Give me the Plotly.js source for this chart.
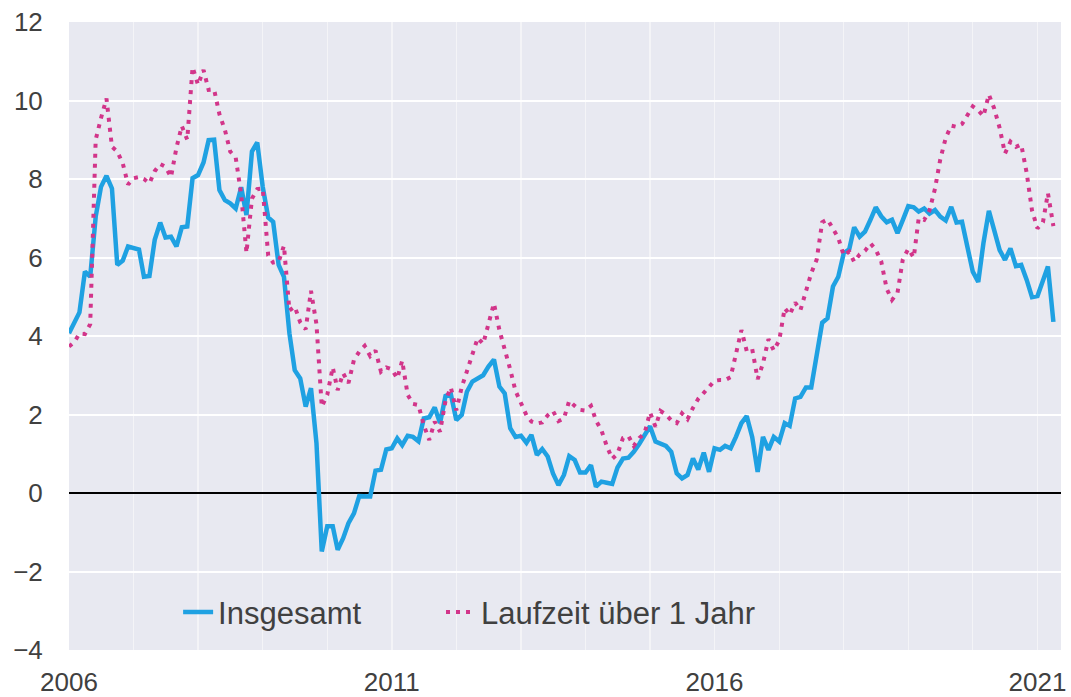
<!DOCTYPE html>
<html><head><meta charset="utf-8">
<script src="https://cdn.plot.ly/plotly-3.0.1.min.js"></script>
<style>html,body{margin:0;padding:0;background:#fff}#chart{width:1071px;height:697px}</style>
</head><body><div id="chart"></div>
<script>
// Monthly series starting January 2006
const startYear = 2006;
const startMonth = 1;
const seriesNames = ['Insgesamt', 'Laufzeit über 1 Jahr'];
const insgesamt = [
4.07,4.35,4.6,5.64,5.51,7.04,7.8,8.08,7.76,5.81,5.92,6.28,
6.25,6.2,5.51,5.53,6.45,6.89,6.51,6.53,6.28,6.77,6.79,8.02,
8.1,8.42,8.99,9.0,7.72,7.46,7.38,7.25,7.79,7.08,8.7,8.93,
7.8,7.02,6.91,5.81,5.51,4.07,3.13,2.92,2.2,2.67,1.27,-1.49,
-0.85,-0.85,-1.45,-1.15,-0.77,-0.52,-0.08,-0.09,-0.09,0.57,0.59,1.11,
1.14,1.39,1.22,1.46,1.43,1.32,1.9,1.93,2.18,1.78,2.47,2.52,
1.86,1.99,2.58,2.84,2.92,3.0,3.22,3.4,2.71,2.54,1.65,1.43,
1.46,1.28,1.48,0.97,1.12,0.93,0.5,0.2,0.46,0.94,0.84,0.52,
0.52,0.71,0.16,0.29,0.26,0.23,0.65,0.88,0.9,1.05,1.25,1.45,
1.7,1.31,1.25,1.2,1.05,0.5,0.37,0.46,0.88,0.6,1.03,0.54,
1.14,1.1,1.2,1.14,1.43,1.78,1.96,1.43,0.54,1.43,1.1,1.43,
1.31,1.78,1.71,2.41,2.45,2.69,2.69,3.52,4.34,4.45,5.26,5.51,
6.11,6.21,6.77,6.53,6.66,6.96,7.28,7.05,6.9,6.96,6.62,6.95,
7.31,7.28,7.17,7.25,7.12,7.21,7.04,6.94,7.29,6.89,6.91,6.28,
5.64,5.38,6.36,7.19,6.66,6.19,5.94,6.23,5.78,5.81,5.43,4.99,
5.02,5.43,5.77,4.36
];
const laufzeitUeber1Jahr = [
3.73,3.85,4.06,4.05,4.3,9.0,9.55,10.05,8.82,8.7,8.4,7.86,
8.02,8.05,8.0,7.89,8.2,8.38,8.31,8.05,8.8,9.35,9.0,10.85,
10.4,10.78,10.27,10.28,9.65,9.25,8.7,8.55,7.6,6.12,7.5,7.74,
7.76,6.05,5.87,5.89,6.3,4.65,4.75,4.35,4.17,5.15,4.3,2.2,
2.5,3.2,2.62,3.05,2.8,3.39,3.6,3.75,3.49,3.63,3.09,3.2,
3.15,2.92,3.37,2.5,2.27,2.24,1.73,1.35,1.82,1.56,2.35,2.69,
2.11,2.7,3.1,3.5,3.95,3.8,4.35,4.83,4.15,3.7,3.15,2.6,
2.3,1.98,1.82,1.77,1.8,1.98,2.09,1.83,1.9,2.35,2.22,2.12,
2.1,2.22,1.85,1.6,1.2,0.87,1.0,1.4,1.45,1.2,1.4,1.52,
2.05,1.69,2.09,2.0,1.85,1.78,2.03,1.88,2.17,2.4,2.55,2.7,
2.86,2.88,2.88,2.95,3.5,4.15,3.62,3.67,2.9,3.3,3.92,3.63,
3.89,4.71,4.54,4.85,4.66,5.15,5.6,5.95,6.9,6.97,6.75,6.5,
6.05,6.15,5.89,6.08,6.17,6.36,6.2,5.9,5.2,4.92,5.1,5.95,
6.22,6.0,7.0,6.96,7.2,7.75,8.5,9.05,9.36,9.33,9.4,9.6,
9.85,9.75,9.6,10.15,9.8,9.3,8.65,8.95,8.82,8.88,8.15,7.2,
6.74,6.9,7.64,6.8
];
const xTickVals = ['2006-01-01', '2011-01-01', '2016-01-01', '2021-01-01'];
const xTickText = ['2006', '2011', '2016', '2021'];
const yTickVals = [-4, -2, 0, 2, 4, 6, 8, 10, 12];

const dates = insgesamt.map(function (_, i) {
  const k = startMonth - 1 + i;
  const y = startYear + Math.floor(k / 12);
  const m = (k % 12) + 1;
  return y + '-' + String(m).padStart(2, '0') + '-01';
});

const traces = [
  {x: dates, y: insgesamt, name: seriesNames[0], type: 'scatter', mode: 'lines',
   legend: 'legend', line: {color: '#1fa1e2', width: 4.5}},
  {x: dates, y: laufzeitUeber1Jahr, name: seriesNames[1], type: 'scatter', mode: 'lines',
   legend: 'legend2', line: {color: '#d2358a', width: 4, dash: '4px,6px'}}
];

const legendStyle = {orientation: 'h', y: 0.06, xanchor: 'left', yanchor: 'middle',
  bgcolor: 'rgba(0,0,0,0)', font: {size: 31, color: '#404040'}};

const layout = {
  width: 1071, height: 697,
  margin: {l: 69, r: 10, t: 22, b: 47, pad: 0},
  paper_bgcolor: '#ffffff',
  plot_bgcolor: '#e8e9f1',
  font: {family: 'Liberation Sans, Arial, sans-serif', size: 26, color: '#404040'},
  showlegend: true,
  legend: Object.assign({x: 0.11}, legendStyle),
  legend2: Object.assign({x: 0.375}, legendStyle),
  xaxis: {
    type: 'date', range: ['2006-01-01', '2021-05-14'],
    tickmode: 'array', tickvals: xTickVals, ticktext: xTickText,
    showgrid: true, gridcolor: '#f4f4f7', gridwidth: 1.5,
    ticks: 'outside', ticklen: 9, tickcolor: 'rgba(0,0,0,0)',
    minor: {tick0: '2006-01-01', dtick: 'M12', showgrid: true, gridcolor: '#f4f4f7', gridwidth: 1.2, ticks: ''},
    zeroline: false, showline: false, fixedrange: true
  },
  yaxis: {
    range: [-4, 12], tickmode: 'array', tickvals: yTickVals,
    showgrid: true, gridcolor: '#ffffff', gridwidth: 2,
    zeroline: true, zerolinecolor: '#000000', zerolinewidth: 1.5,
    ticks: 'outside', ticklen: 20, tickcolor: 'rgba(0,0,0,0)',
    showline: false, fixedrange: true
  }
};

Plotly.newPlot('chart', traces, layout, {displayModeBar: false, staticPlot: true});
</script>
</body></html>
